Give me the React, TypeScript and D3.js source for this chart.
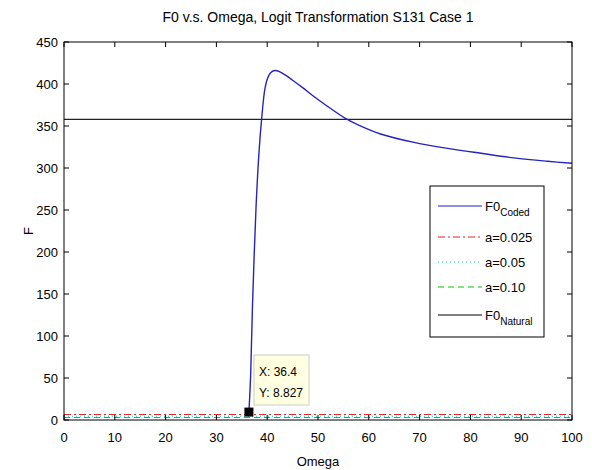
import React from "react";
import * as d3 from "d3";

const omega = [36.4, 36.75, 37.1, 37.8, 38.4, 38.9, 39.6, 40.3, 41.0, 41.6, 42.3, 43.6, 45, 46.9, 49, 51.5, 55.4, 58, 62.3, 68.9, 75.5, 82.1, 88.6, 95.2, 100];
const f0Coded = [8.827, 55, 135, 253, 320, 358, 396, 410, 415, 416, 415, 410.5, 404.5, 396, 386, 375, 359, 351, 340.5, 330.5, 323.4, 317.5, 312, 308, 305.6];
const f0Natural = 358;
const a025 = 6.5;
const a05 = 4.5;
const a10 = 3;
const xTicks = [0, 10, 20, 30, 40, 50, 60, 70, 80, 90, 100];
const yTicks = [0, 50, 100, 150, 200, 250, 300, 350, 400, 450];
const tipX = 36.4;
const tipY = 8.827;

const W = 592, H = 470;
const L = 64, R = 572, T = 42, B = 420;
const FONT = "Arial, 'Liberation Sans', sans-serif";

export default function App() {
  const x = d3.scaleLinear().domain([0, 100]).range([L, R]);
  const y = d3.scaleLinear().domain([0, 450]).range([B, T]);
  const line = d3.line<number>().x((_, i) => x(omega[i])).y((d) => y(d)).curve(d3.curveCatmullRom.alpha(0.5));
  const hl = (v: number) => `M${x(0)},${y(v)}H${x(100)}`;

  const legX0 = 430, legY0 = 186, legW = 114, legH = 151;
  const rows = [
    { y: 206, stroke: "#1f1fd0", dash: "", label: "F0", sub: "Coded" },
    { y: 237, stroke: "#e02020", dash: "7,3,2,3", label: "a=0.025", sub: "" },
    { y: 262, stroke: "#00d0d0", dash: "1,3", label: "a=0.05", sub: "" },
    { y: 287, stroke: "#00cc00", dash: "6,4", label: "a=0.10", sub: "" },
    { y: 315, stroke: "#000", dash: "", label: "F0", sub: "Natural" },
  ];

  return (
    <svg width={W} height={H} style={{ position: "absolute", left: 0, top: 0, background: "#fff" }} fontFamily={FONT}>
      <rect x={0} y={0} width={W} height={H} fill="#fff" />
      <text x={(L + R) / 2} y={22} textAnchor="middle" fontSize={14}>F0 v.s. Omega, Logit Transformation S131 Case 1</text>
      {/* reference lines */}
      <path d={hl(a10)} stroke="#00cc00" strokeDasharray="6,4" fill="none" />
      <path d={hl(a05)} stroke="#00d0d0" strokeDasharray="1,3" fill="none" />
      <path d={hl(a025)} stroke="#e02020" strokeDasharray="7,3,2,3" fill="none" />
      <path d={hl(f0Natural)} stroke="#222" strokeWidth={1.3} fill="none" />
      <path d={line(f0Coded) || ""} stroke="#2424c0" strokeWidth={1.4} fill="none" />
      {/* box and ticks */}
      <rect x={L} y={T} width={R - L} height={B - T} fill="none" stroke="#000" />
      {xTicks.map((t) => (
        <g key={"x" + t}>
          <path d={`M${x(t)},${B}v-5M${x(t)},${T}v5`} stroke="#000" />
          <text x={x(t)} y={442} textAnchor="middle" fontSize={13}>{t}</text>
        </g>
      ))}
      {yTicks.map((t) => (
        <g key={"y" + t}>
          <path d={`M${L},${y(t)}h5M${R},${y(t)}h-5`} stroke="#000" />
          <text x={58} y={y(t) + 5} textAnchor="end" fontSize={13}>{t}</text>
        </g>
      ))}
      <text x={(L + R) / 2} y={466} textAnchor="middle" fontSize={13}>Omega</text>
      <text transform={`translate(33,${(T + B) / 2}) rotate(-90)`} textAnchor="middle" fontSize={13}>F</text>
      {/* legend */}
      <rect x={legX0} y={legY0} width={legW} height={legH} fill="#fff" stroke="#000" />
      {rows.map((r, i) => (
        <g key={i}>
          <path d={`M438,${r.y}H482`} stroke={r.stroke} strokeDasharray={r.dash} fill="none" />
          <text x={485} y={r.y + 5} fontSize={13}>
            {r.label}
            {r.sub && <tspan fontSize={10} dy={5}>{r.sub}</tspan>}
          </text>
        </g>
      ))}
      {/* data tip */}
      <rect x={x(tipX) - 4.5} y={y(tipY) - 5} width={9} height={9} fill="#000" />
      <rect x={254} y={355} width={55} height={50} fill="#ffffe1" stroke="#ccc" />
      <text x={259} y={376} fontSize={12}>X: {tipX}</text>
      <text x={259} y={397} fontSize={12}>Y: {tipY}</text>
    </svg>
  );
}
